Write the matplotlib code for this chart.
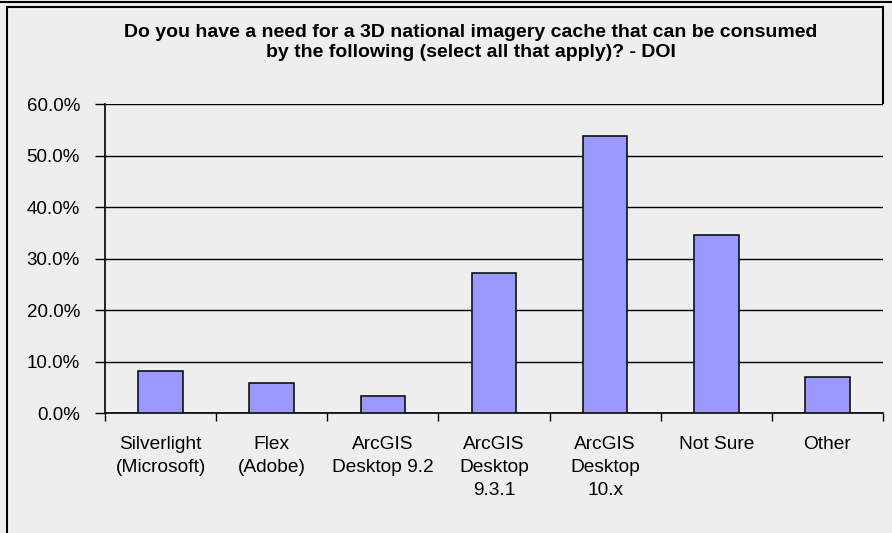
import matplotlib
matplotlib.use("Agg")
import matplotlib.pyplot as plt
from matplotlib.lines import Line2D
from matplotlib.ticker import FuncFormatter, FixedLocator

categories = ["Silverlight\n(Microsoft)", "Flex\n(Adobe)", "ArcGIS\nDesktop 9.2",
              "ArcGIS\nDesktop\n9.3.1", "ArcGIS\nDesktop\n10.x", "Not Sure", "Other"]
values = [8.3, 5.8, 3.4, 27.3, 53.7, 34.6, 7.1]
yticks = [0, 10, 20, 30, 40, 50, 60]
title = ("Do you have a need for a 3D national imagery cache that can be consumed\n"
         "by the following (select all that apply)? - DOI")

W, H = 892, 533
bg = "#EEEEEE"
plt.rcParams['font.family'] = ['Liberation Sans', 'DejaVu Sans']

fig = plt.figure(figsize=(W / 100, H / 100), dpi=100, facecolor=bg)
ax = fig.add_axes([105 / W, 1 - 413.3 / H, (883 - 105) / W, (413.3 - 104) / H])
ax.set_facecolor(bg)

x = list(range(len(categories)))
ax.bar(x, values, width=0.4, color="#9999FF", edgecolor="#111111", linewidth=1.2, zorder=3)

ax.set_xlim(-0.5, len(categories) - 0.5)
ax.set_ylim(0, 60)
ax.set_yticks(yticks)
ax.yaxis.set_major_formatter(FuncFormatter(lambda v, p: f"{v:.1f}%"))
ax.grid(axis='y', color='black', linewidth=1.0, zorder=1)
ax.tick_params(axis='y', length=7, width=1, labelsize=13.5, pad=11, colors='black')

ax.set_xticks(x)
ax.set_xticklabels(categories, fontsize=13.8, linespacing=1.47, va='top')
ax.tick_params(axis='x', length=0, pad=16)
ax.xaxis.set_minor_locator(FixedLocator([i + 0.5 for i in range(-1, len(categories))]))
ax.tick_params(axis='x', which='minor', length=6, width=1)

for s in ['top', 'right']:
    ax.spines[s].set_visible(False)
for s in ['left', 'bottom']:
    ax.spines[s].set_color('black')
    ax.spines[s].set_linewidth(1.2)

fig.text(471 / W, 1 - 42.5 / H, title, ha='center', va='center', fontsize=14,
         fontweight='bold', linespacing=1.2)

def px(xp, yp):
    return xp / W, 1 - yp / H

lines = [((0, 2), (W, 2)), ((7, 7), (883, 7)), ((7, 7), (7, H)), ((883, 7), (883, 103))]
for (x0, y0), (x1, y1) in lines:
    a, b = px(x0, y0)
    c, d = px(x1, y1)
    fig.add_artist(Line2D([a, c], [b, d], color='black', linewidth=1.5))

fig.savefig("out.png", dpi=100, facecolor=bg)
